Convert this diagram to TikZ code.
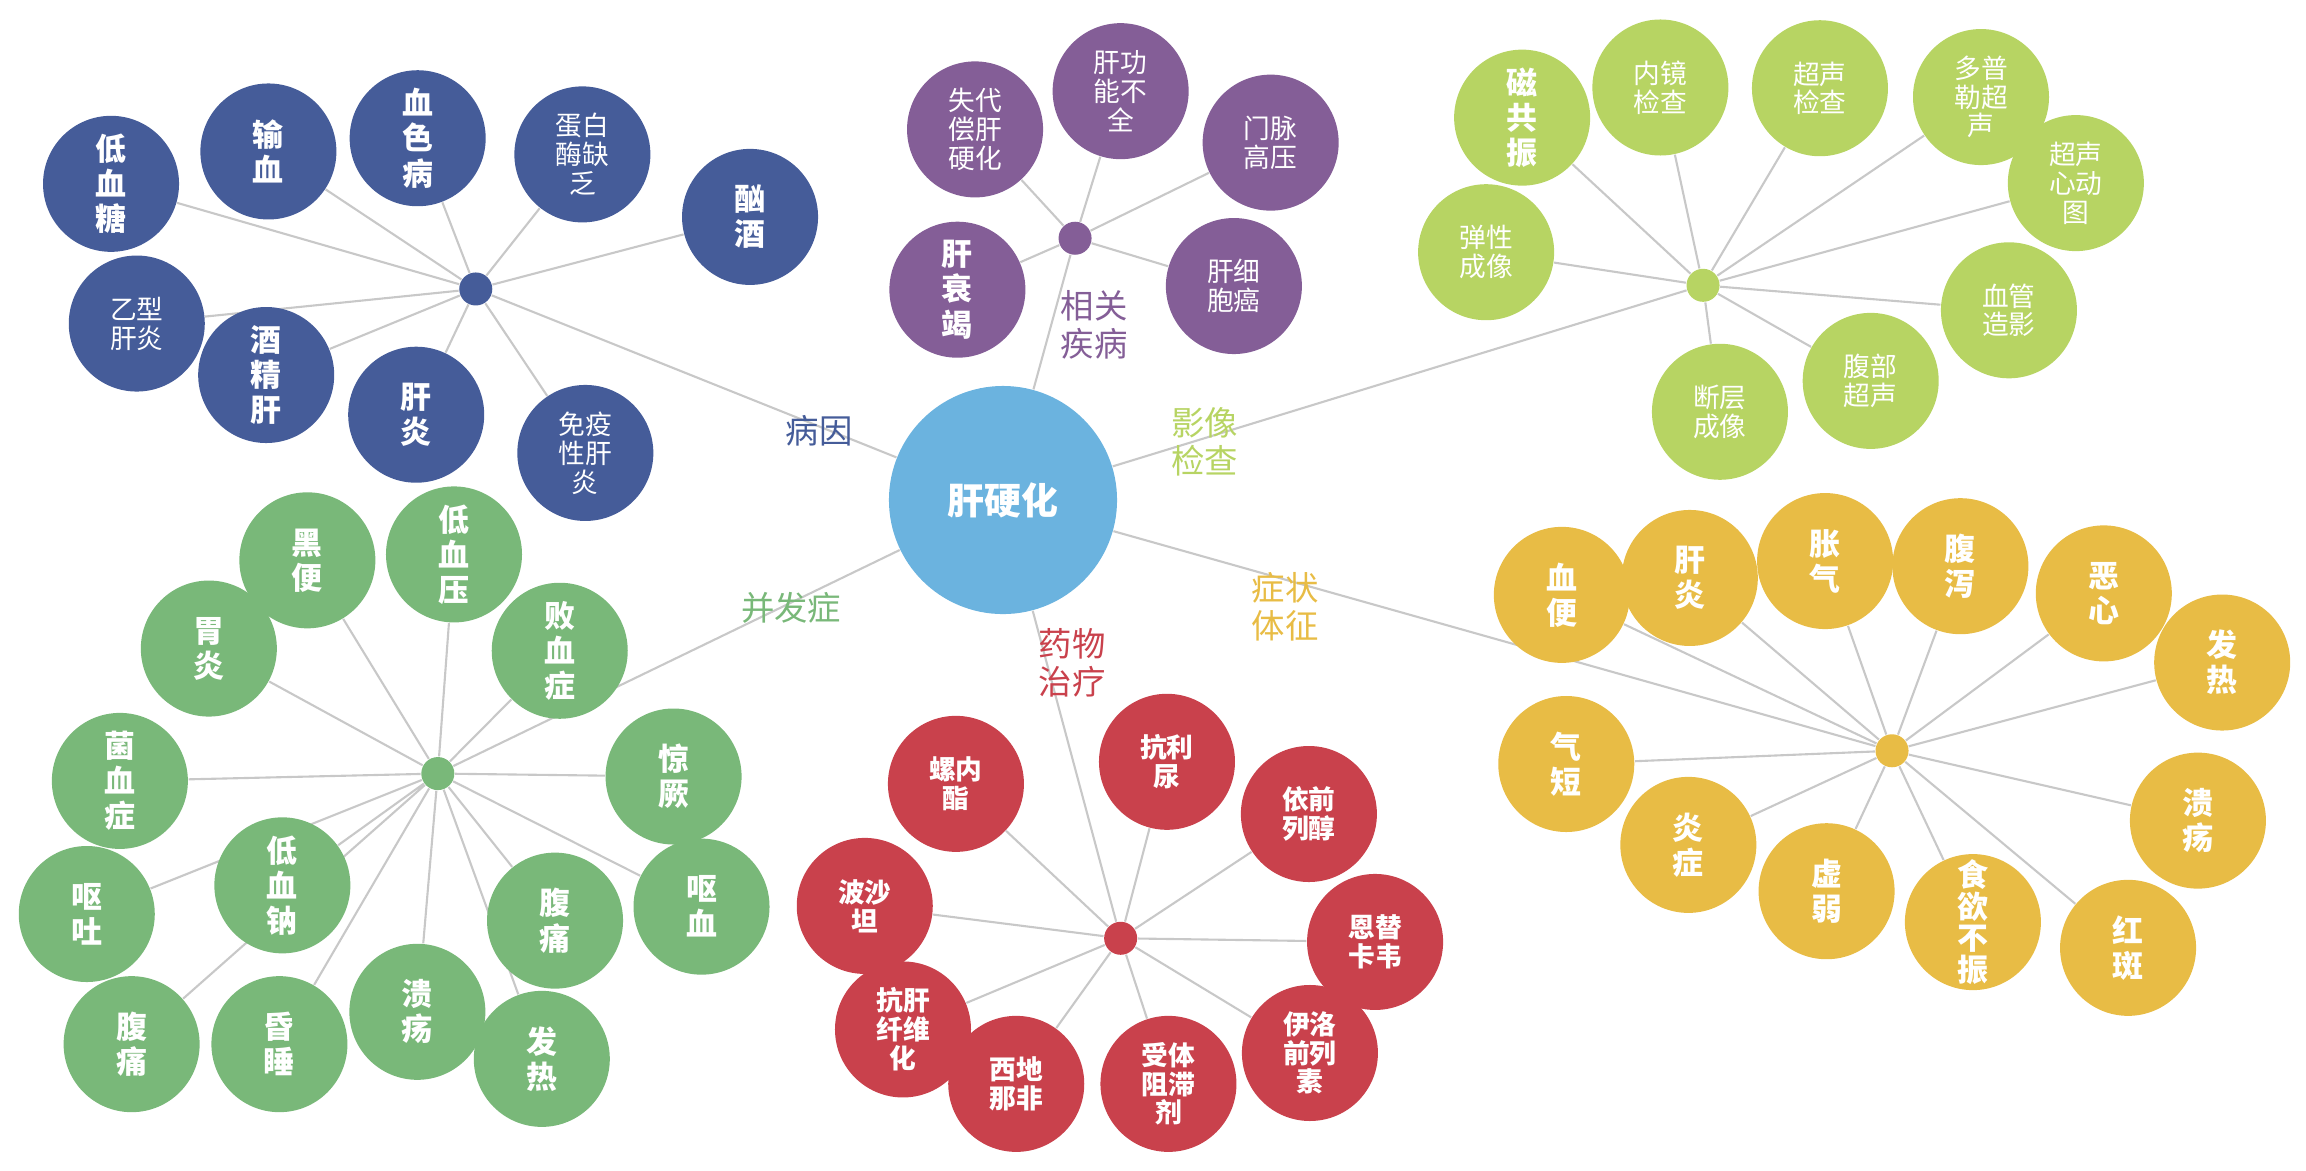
\documentclass[tikz,border=0pt]{standalone}
\usepackage{fontspec}
\setmainfont{Noto Sans CJK SC}
\usetikzlibrary{backgrounds}

\definecolor{bingyin}{HTML}{455C99}
\definecolor{jibing}{HTML}{845E97}
\definecolor{yingxiang}{HTML}{B7D463}
\definecolor{zhengzhuang}{HTML}{E8BC45}
\definecolor{bingfa}{HTML}{79B879}
\definecolor{yaowu}{HTML}{C9414C}
\definecolor{gan}{HTML}{6BB3DF}
\definecolor{linkgray}{HTML}{C8C8C8}

\tikzset{
  hub/.style={circle, fill=#1, minimum size=9.4pt, inner sep=0pt},
  leaf/.style={circle, fill=#1, minimum size=38.7pt, inner sep=0pt, text=white, align=center,
    font=\bfseries\fontsize{8.8}{10}\selectfont},
  leafs/.style={leaf=#1, font=\fontsize{7.6}{8.2}\selectfont},
  leafb/.style={leaf=#1, font=\bfseries\fontsize{7.6}{8.2}\selectfont},
  tag/.style={text=#1, align=center, font=\fontsize{9.5}{10.8}\selectfont},
  link/.style={draw=linkgray, line width=0.6pt},
}

\begin{document}
\begin{tikzpicture}[x=0.14707mm, y=-0.14707mm]
\useasboundingbox (0,0) rectangle (1568,796);

%ganyinghua%
\node[circle, fill=gan, minimum size=64.9pt, inner sep=0pt, text=white,
  font=\bfseries\fontsize{10.5}{12}\selectfont] (ctr) at (682,340) {肝硬化};

%bingyin%
\node[hub=bingyin] (bh) at (323.5,196.5) {};
\node[leaf=bingyin] (b1) at (75.5,125) {低\\血\\糖};
\node[leaf=bingyin] (b2) at (182.5,103) {输\\血};
\node[leaf=bingyin] (b3) at (284,94) {血\\色\\病};
\node[leafs=bingyin] (b4) at (396,105) {蛋白\\酶缺\\乏};
\node[leaf=bingyin] (b5) at (510,147.5) {酗\\酒};
\node[leafs=bingyin] (b6) at (93,220) {乙型\\肝炎};
\node[leaf=bingyin] (b7) at (181,255) {酒\\精\\肝};
\node[leaf=bingyin] (b8) at (283,282) {肝\\炎};
\node[leafs=bingyin] (b9) at (398,308) {免疫\\性肝\\炎};
\node[tag=bingyin] (tb) at (557,293) {病因};

%xiangguanjibing%
\node[hub=jibing] (ph) at (731,162) {};
\node[leafs=jibing] (p1) at (663,88) {失代\\偿肝\\硬化};
\node[leafs=jibing] (p2) at (762,62) {肝功\\能不\\全};
\node[leafs=jibing] (p3) at (864,97) {门脉\\高压};
\node[leaf=jibing] (p4) at (651,197) {肝\\衰\\竭};
\node[leafs=jibing] (p5) at (839,194.5) {肝细\\胞癌};
\node[tag=jibing] (tp) at (744,221) {相关\\疾病};

%yingxiangjiancha%
\node[hub=yingxiang] (gh) at (1158,194) {};
\node[leaf=yingxiang] (g1) at (1035,80) {磁\\共\\振};
\node[leafs=yingxiang] (g2) at (1129,59.5) {内镜\\检查};
\node[leafs=yingxiang] (g3) at (1237.5,60) {超声\\检查};
\node[leafs=yingxiang] (g4) at (1347,66) {多普\\勒超\\声};
\node[leafs=yingxiang] (g5) at (1411.5,124.5) {超声\\心动\\图};
\node[leafs=yingxiang] (g6) at (1010.5,171.5) {弹性\\成像};
\node[leafs=yingxiang] (g7) at (1366,211) {血管\\造影};
\node[leafs=yingxiang] (g8) at (1272,259) {腹部\\超声};
\node[leafs=yingxiang] (g9) at (1169.5,280) {断层\\成像};
\node[tag=yingxiang] (tg) at (819,300.5) {影像\\检查};

%zhengzhuangtizheng%
\node[hub=zhengzhuang] (yh) at (1286.5,510.5) {};
\node[leaf=zhengzhuang] (y1) at (1062,404.5) {血\\便};
\node[leaf=zhengzhuang] (y2) at (1149,393) {肝\\炎};
\node[leaf=zhengzhuang] (y3) at (1241,381.5) {胀\\气};
\node[leaf=zhengzhuang] (y4) at (1333,385) {腹\\泻};
\node[leaf=zhengzhuang] (y5) at (1430.5,403.5) {恶\\心};
\node[leaf=zhengzhuang] (y6) at (1511,450.5) {发\\热};
\node[leaf=zhengzhuang] (y7) at (1065,519.5) {气\\短};
\node[leaf=zhengzhuang] (y8) at (1148,574.5) {炎\\症};
\node[leaf=zhengzhuang] (y9) at (1242,606) {虚\\弱};
\node[leaf=zhengzhuang, font=\bfseries\fontsize{8.8}{9}\selectfont] (y10) at (1341.5,627) {食\\欲\\不\\振};
\node[leaf=zhengzhuang] (y11) at (1447,644.5) {红\\斑};
\node[leaf=zhengzhuang] (y12) at (1494.5,558) {溃\\疡};
\node[tag=zhengzhuang] (ty) at (874,412.5) {症状\\体征};

%bingfazheng%
\node[hub=bingfa] (fh) at (297.7,526) {};
\node[leaf=bingfa] (f1) at (209,381) {黑\\便};
\node[leaf=bingfa] (f2) at (308.7,377) {低\\血\\压};
\node[leaf=bingfa] (f3) at (142,441) {胃\\炎};
\node[leaf=bingfa] (f4) at (380.6,442.5) {败\\血\\症};
\node[leaf=bingfa] (f5) at (81.5,531) {菌\\血\\症};
\node[leaf=bingfa] (f6) at (458,528) {惊\\厥};
\node[leaf=bingfa] (f7) at (59,621.5) {呕\\吐};
\node[leaf=bingfa] (f8) at (192,602) {低\\血\\钠};
\node[leaf=bingfa] (f9) at (377.4,626) {腹\\痛};
\node[leaf=bingfa] (f10) at (477,616.5) {呕\\血};
\node[leaf=bingfa] (f11) at (89.5,710) {腹\\痛};
\node[leaf=bingfa] (f12) at (190,710) {昏\\睡};
\node[leaf=bingfa] (f13) at (283.8,688) {溃\\疡};
\node[leaf=bingfa] (f14) at (368.4,720) {发\\热};
\node[tag=bingfa] (tf) at (538,413.5) {并发症};

%yaowuzhiliao%
\node[hub=yaowu] (rh) at (762,638) {};
\node[leafb=yaowu] (r1) at (650,533) {螺内\\酯};
\node[leafb=yaowu] (r2) at (793.5,518) {抗利\\尿};
\node[leafb=yaowu] (r3) at (890,553.5) {依前\\列醇};
\node[leafb=yaowu] (r4) at (588,616) {波沙\\坦};
\node[leafb=yaowu] (r5) at (935,640.5) {恩替\\卡韦};
\node[leafb=yaowu] (r6) at (614,700) {抗肝\\纤维\\化};
\node[leafb=yaowu] (r7) at (691,737) {西地\\那非};
\node[leafb=yaowu] (r8) at (794.5,737) {受体\\阻滞\\剂};
\node[leafb=yaowu] (r9) at (890.7,716) {伊洛\\前列\\素};
\node[tag=yaowu] (tr) at (729,451) {药物\\治疗};

%lianxian%
\begin{pgfonlayer}{background}
\draw[link] (ctr) -- (bh) (ctr) -- (ph) (ctr) -- (gh)
  (ctr) -- (yh) (ctr) -- (fh) (ctr) -- (rh);
\draw[link] (bh) -- (b1) (bh) -- (b2) (bh) -- (b3) (bh) -- (b4) (bh) -- (b5)
  (bh) -- (b6) (bh) -- (b7) (bh) -- (b8) (bh) -- (b9);
\draw[link] (ph) -- (p1) (ph) -- (p2) (ph) -- (p3) (ph) -- (p4) (ph) -- (p5);
\draw[link] (gh) -- (g1) (gh) -- (g2) (gh) -- (g3) (gh) -- (g4) (gh) -- (g5)
  (gh) -- (g6) (gh) -- (g7) (gh) -- (g8) (gh) -- (g9);
\draw[link] (yh) -- (y1) (yh) -- (y2) (yh) -- (y3) (yh) -- (y4) (yh) -- (y5)
  (yh) -- (y6) (yh) -- (y7) (yh) -- (y8) (yh) -- (y9) (yh) -- (y10)
  (yh) -- (y11) (yh) -- (y12);
\draw[link] (fh) -- (f1) (fh) -- (f2) (fh) -- (f3) (fh) -- (f4) (fh) -- (f5)
  (fh) -- (f6) (fh) -- (f7) (fh) -- (f8) (fh) -- (f9) (fh) -- (f10)
  (fh) -- (f11) (fh) -- (f12) (fh) -- (f13) (fh) -- (f14);
\draw[link] (rh) -- (r1) (rh) -- (r2) (rh) -- (r3) (rh) -- (r4) (rh) -- (r5)
  (rh) -- (r6) (rh) -- (r7) (rh) -- (r8) (rh) -- (r9);
\end{pgfonlayer}
\end{tikzpicture}
\end{document}
